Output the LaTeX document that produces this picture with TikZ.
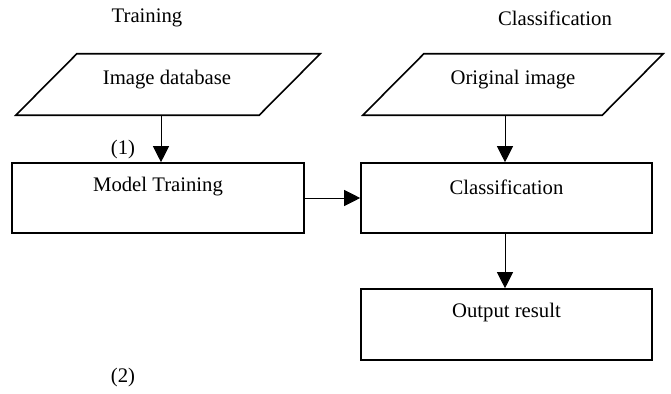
\documentclass[tikz,border=0pt]{standalone}
\usepackage{fontspec}
\setmainfont{Liberation Serif}
\usetikzlibrary{arrows.meta,calc}
\begin{document}
\begin{tikzpicture}[x=1pt,y=-1pt,
  every node/.style={font=\fontsize{20.7pt}{24pt}\selectfont, inner sep=0pt},
  boxnode/.style={draw, line width=1.6pt, rectangle},
  frame/.style={draw=none, rectangle},
  pline/.style={line width=1.6pt, line join=miter},
  arr/.style={line width=1pt, -{Triangle[length=16pt,width=16pt]}},
  lbl/.style={anchor=center}]
\useasboundingbox (0,0) rectangle (671,393);
% titles
\node[lbl] (t1) at (147,18) {Training};
\node[lbl] (t2) at (555,18) {Classification};
% parallelograms
\node[frame, minimum width=304pt, minimum height=61pt] (db) at (168,84.5) {};
\draw[pline] ($(db.north west)+(61,0)$) -- (db.north east) -- ($(db.south east)+(-61,0)$) -- (db.south west) -- cycle;
\node[lbl] (dbt) at (167,80) {Image database};
\node[frame, minimum width=300pt, minimum height=61pt] (og) at (513,84.5) {};
\draw[pline] ($(og.north west)+(61,0)$) -- (og.north east) -- ($(og.south east)+(-61,0)$) -- (og.south west) -- cycle;
\node[lbl] (ogt) at (513,80) {Original image};
% boxes
\node[boxnode, minimum width=292pt, minimum height=70pt] (mt) at (158,198) {};
\node[lbl] (mtt) at (158,187) {Model Training};
\node[boxnode, minimum width=291pt, minimum height=70pt] (cl) at (506.5,198) {};
\node[lbl] (clt) at (506.5,187) {Classification};
\node[boxnode, minimum width=291pt, minimum height=71pt] (out) at (506.5,324.5) {};
\node[lbl] (outt) at (506.5,313) {Output result};
% labels
\node[lbl] (l1) at (123,150) {(1)};
\node[lbl] (l2) at (123,378) {(2)};
% connectors
\coordinate (a1) at (161,163);
\draw[arr] (a1 |- db.south) -- (a1 |- mt.north);
\coordinate (a2) at (505,163);
\draw[arr] (a2 |- og.south) -- (a2 |- cl.north);
\draw[arr] (mt.east) -- (cl.west);
\draw[arr] (a2 |- cl.south) -- (a2 |- out.north);
\end{tikzpicture}
\end{document}
